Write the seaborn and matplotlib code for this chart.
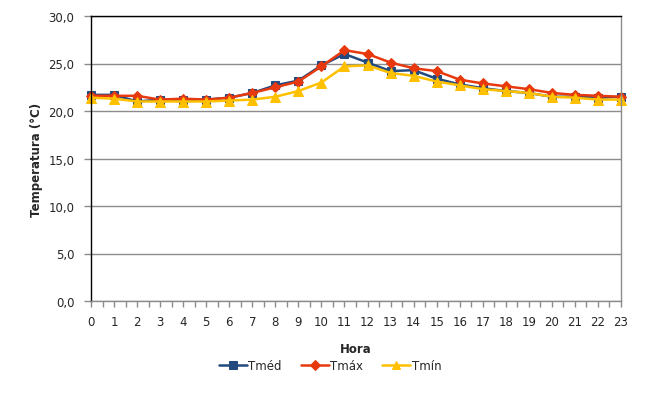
import numpy as np
import pandas as pd
import matplotlib
matplotlib.use('Agg')
import matplotlib.pyplot as plt
from matplotlib.ticker import FuncFormatter, MultipleLocator
import seaborn as sns

sns.set_style('white')
plt.rcParams['font.family'] = ['DejaVu Sans']

# Data
hours = list(range(24))
t_med = [21.7, 21.7, 21.0, 21.2, 21.2, 21.2, 21.4, 21.9, 22.7, 23.2, 24.8, 26.0,
         25.1, 24.2, 24.3, 23.4, 22.8, 22.4, 22.1, 21.9, 21.5, 21.5, 21.4, 21.5]
t_max = [21.6, 21.6, 21.6, 21.2, 21.3, 21.2, 21.4, 21.9, 22.5, 23.1, 24.7, 26.4,
         26.0, 25.1, 24.5, 24.2, 23.3, 22.9, 22.6, 22.3, 21.9, 21.7, 21.6, 21.5]
t_min = [21.4, 21.3, 21.0, 21.0, 21.0, 21.0, 21.1, 21.2, 21.5, 22.1, 23.0, 24.7,
         24.8, 24.0, 23.7, 23.1, 22.7, 22.3, 22.1, 21.9, 21.5, 21.4, 21.2, 21.2]
series_names = ['Tméd', 'Tmáx', 'Tmín']

df = pd.DataFrame({'Hora': hours, 'Tméd': t_med, 'Tmáx': t_max, 'Tmín': t_min})
long = df.melt(id_vars='Hora', var_name='serie', value_name='temp')

colors = {'Tméd': '#234a7e', 'Tmáx': '#e8390e', 'Tmín': '#ffc000'}
markers = {'Tméd': 's', 'Tmáx': 'D', 'Tmín': '^'}
msize = {'Tméd': 6, 'Tmáx': 5.5, 'Tmín': 7}

fig = plt.figure(figsize=(6.64, 4.02), dpi=100)
ax = fig.add_axes([91/664, 100/402, 530/664, 285/402])

for name in series_names:
    sns.lineplot(data=long[long['serie'] == name], x='Hora', y='temp',
                 color=colors[name], marker=markers[name], markersize=msize[name],
                 markeredgecolor=colors[name], linewidth=1.8, label=name,
                 ax=ax, clip_on=False)

ax.set_xlim(0, 23)
ax.set_ylim(0, 30)
ax.set_xticks(hours)
ax.xaxis.set_minor_locator(MultipleLocator(0.5))
ax.yaxis.set_major_locator(MultipleLocator(5))
ax.yaxis.set_major_formatter(FuncFormatter(lambda v, p: f'{v:.1f}'.replace('.', ',')))
ax.grid(axis='y', color='#8c8c8c', linewidth=1)
ax.set_axisbelow(True)

for side in ['left', 'top']:
    ax.spines[side].set_color('black')
for side in ['right', 'bottom']:
    ax.spines[side].set_color('#8c8c8c')
for s in ax.spines.values():
    s.set_linewidth(1)

ax.tick_params(axis='y', which='major', direction='out', length=5, width=1,
               color='#8c8c8c', pad=7, labelsize=8.5, left=True)
ax.tick_params(axis='x', which='both', direction='out', length=4, width=1,
               color='#8c8c8c', pad=6, labelsize=8.5, bottom=True)

ax.set_xlabel('Hora', fontsize=8.5, fontweight='bold', labelpad=10)
ax.set_ylabel('Temperatura (°C)', fontsize=8.5, fontweight='bold', labelpad=4)

ax.legend(loc='center', bbox_to_anchor=(330/664, 1 - 367/402),
          bbox_transform=fig.transFigure, ncol=3, frameon=False, fontsize=8.5,
          handlelength=2.4, handletextpad=0.1, columnspacing=1.6, markerscale=0.85)

fig.savefig('out.png', dpi=100)
